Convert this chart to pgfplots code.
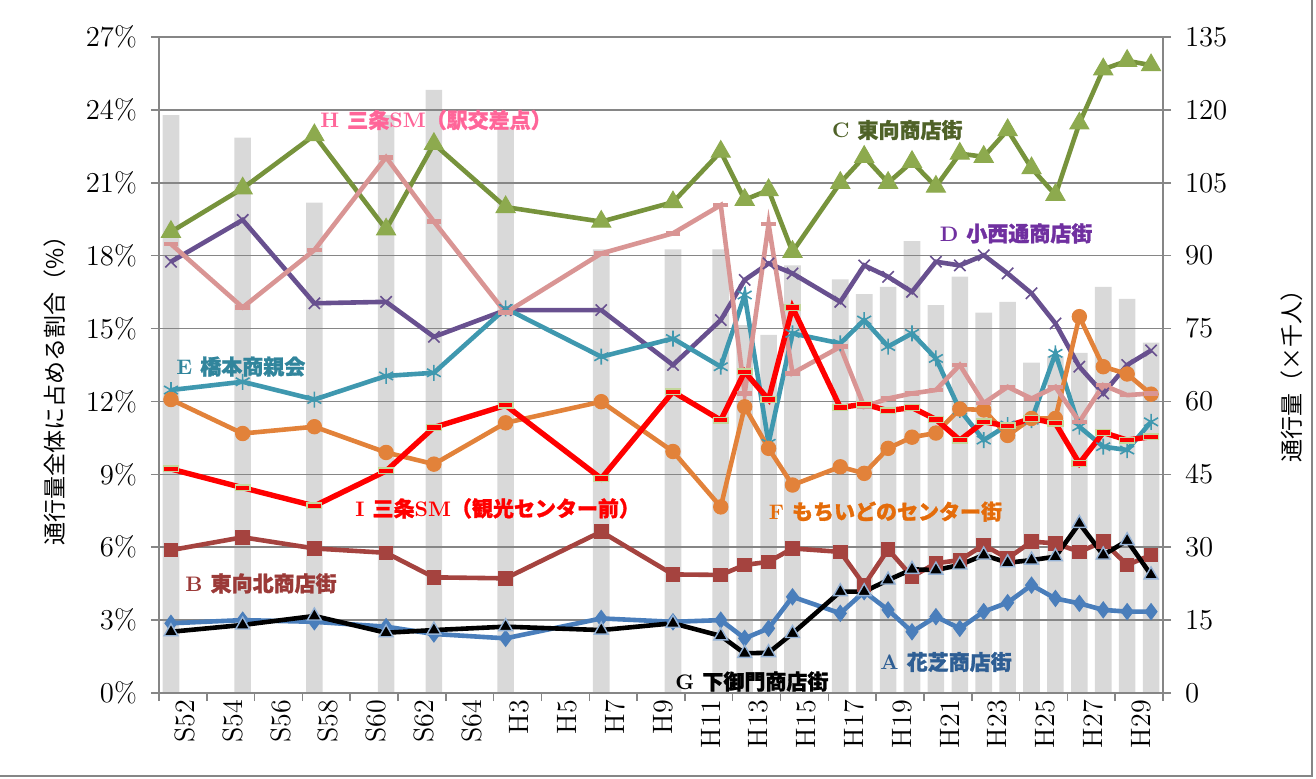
\documentclass[border=0pt]{standalone}
\usepackage{fontspec}
\usepackage{pgfplots}
\usepackage{pgfplotstable}
\pgfplotsset{compat=1.18}
\newfontfamily\cjk{Noto Sans CJK JP}
\newfontfamily\cjkb{Noto Sans CJK JP}[FakeBold=1.3]

\definecolor{barg}{HTML}{D9D9D9}
\definecolor{axgray}{HTML}{868686}
\definecolor{cA}{HTML}{4A7EBB}
\definecolor{cB}{HTML}{A5433F}
\definecolor{cC}{HTML}{77933C}
\definecolor{cCm}{HTML}{8DAA4E}
\definecolor{cD}{HTML}{68508F}
\definecolor{cE}{HTML}{3F98AF}
\definecolor{cF}{HTML}{E2823A}
\definecolor{cGm}{HTML}{95B3D7}
\definecolor{cH}{HTML}{D99594}
\definecolor{cIm}{HTML}{C3D69B}
\definecolor{lA}{HTML}{2E5E94}
\definecolor{lB}{HTML}{9B3A38}
\definecolor{lC}{HTML}{4F6228}
\definecolor{lD}{HTML}{7030A0}
\definecolor{lE}{HTML}{31859C}
\definecolor{lF}{HTML}{E46C0A}
\definecolor{lH}{HTML}{FF6699}

\pgfdeclareplotmark{dashbox}{%
  \pgfpathrectangle{\pgfqpoint{-3.7pt}{-1.4pt}}{\pgfqpoint{7.4pt}{2.8pt}}%
  \pgfusepathqfillstroke}

% x = category index (S52 = 0 ... H30 = 41), bar = traffic (x1000), A..I = share (%)
\pgfplotstableread{
x   bar    A     B     C      D      E      F      G     H      I
0   118.9  2.87  5.88  18.98  17.75  12.47  12.08  2.52  18.48  9.22
3   114.3  3.00  6.41  20.77  19.47  12.81  10.68  2.80  15.87  8.45
6   100.9  2.93  5.95  22.96  16.04  12.08  10.96  3.17  18.23  7.70
9   118.9  2.73  5.77  19.08  16.10  13.05  9.90   2.48  22.05  9.14
11  124.1  2.43  4.76  22.60  14.66  13.18  9.42   2.59  19.40  10.93
14  116.5  2.25  4.72  20.00  15.76  15.83  11.12  2.73  15.65  11.84
18  91.3   3.07  6.64  19.40  15.76  13.84  11.99  2.59  18.09  8.83
21  91.3   2.93  4.88  20.20  13.50  14.59  9.94   2.87  18.92  12.40
23  91.3   3.00  4.86  22.28  15.35  13.43  7.66   2.35  20.08  11.23
24  75.7   2.25  5.27  20.30  17.00  16.38  11.78  1.63  12.33  13.22
25  73.7   2.66  5.40  20.70  17.68  10.28  10.07  1.66  19.30  12.08
26  88.0   3.96  5.95  18.16  17.27  14.80  8.56   2.45  13.16  15.87
28  85.1   3.28  5.81  21.00  16.10  14.39  9.31   4.17  14.25  11.75
29  82.1   4.17  4.44  22.07  17.60  15.35  9.04   4.17  11.78  11.89
30  83.6   3.42  5.91  21.00  17.13  14.26  10.07  4.65  12.12  11.62
31  93.0   2.52  4.79  21.86  16.51  14.80  10.53  5.09  12.33  11.75
32  79.8   3.14  5.34  20.84  17.75  13.77  10.70  5.06  12.47  11.26
33  85.7   2.66  5.47  22.20  17.60  11.65  11.69  5.27  13.50  10.41
34  78.3   3.35  6.09  22.07  18.02  10.41  11.65  5.68  11.93  11.16
35  80.5   3.72  5.54  23.17  17.27  11.03  10.60  5.36  12.60  10.99
36  68.0   4.44  6.23  21.60  16.45  11.23  11.30  5.47  12.12  11.30
37  69.3   3.89  6.16  20.50  15.21  13.98  11.30  5.61  12.60  11.10
38  70.0   3.69  5.81  23.44  13.43  10.96  15.49  6.98  11.16  9.45
39  83.6   3.42  6.23  25.67  12.33  10.14  13.43  5.68  12.67  10.72
40  81.1   3.35  5.27  26.02  13.50  10.00  13.13  6.27  12.26  10.41
41  72.1   3.35  5.68  25.84  14.10  11.16  12.30  4.86  12.33  10.55
}\data

\begin{document}
\begin{tikzpicture}
\useasboundingbox (-79.5pt,-42.5pt) rectangle (578.5pt,346.5pt);
\draw[axgray, line width=0.6pt] (576.5pt,346.5pt) -- (576.5pt,-41.5pt) -- (-79.5pt,-41.5pt);

% bars on the right axis
\begin{axis}[
  width=502pt, height=328pt, scale only axis,
  xmin=-0.5, xmax=41.5, ymin=0, ymax=135,
  axis x line=none, axis y line*=right,
  axis line style={draw=axgray, line width=0.75pt},
  ytick={0,15,...,135},
  tick style={draw=axgray, line width=0.75pt},
  tick align=outside, major tick length=4pt,
  yticklabel style={font=\fontsize{14}{15}\selectfont, xshift=3.5pt},
  ybar, bar width=8.3pt,
]
\addplot[fill=barg, draw=none] table[x=x, y=bar] {\data};
\end{axis}

% shares on the left axis
\begin{axis}[
  width=502pt, height=328pt, scale only axis,
  xmin=-0.5, xmax=41.5, ymin=0, ymax=27,
  axis x line*=bottom, axis y line*=left,
  axis line style={draw=axgray, line width=0.75pt},
  ytick={0,3,...,27},
  yticklabel={\pgfmathprintnumber{\tick}\%},
  yticklabel style={font=\fontsize{14}{15}\selectfont, xshift=-3.5pt},
  ymajorgrids, grid style={draw=axgray, line width=0.75pt},
  tick style={draw=axgray, line width=0.75pt},
  tick align=outside, major tick length=4pt,
  xtick={-0.5,1.5,...,41.5}, xticklabels={},
  extra x ticks={0,2,...,40},
  extra x tick labels={S52,S54,S56,S58,S60,S62,S64,H3,H5,H7,H9,H11,H13,H15,H17,H19,H21,H23,H25,H27,H29},
  extra x tick style={major tick length=0pt,
    xticklabel style={rotate=90, anchor=east, font=\fontsize{14}{15}\selectfont, yshift=-7pt}},
  clip=false,
]
\addplot[cA, line width=2.3pt, mark=diamond*, mark size=4pt, mark options={solid, line width=0.5pt, fill=cA}] table[x=x, y=A] {\data};
\addplot[cB, line width=2.3pt, mark=square*, mark size=3.4pt, mark options={solid, line width=0.5pt, fill=cB}] table[x=x, y=B] {\data};
\addplot[cC, line width=2.3pt, mark=triangle*, mark size=5.5pt, mark options={solid, line width=0.5pt, draw=cCm, fill=cCm}] table[x=x, y=C] {\data};
\addplot[cD, line width=2.3pt, mark=x, mark size=4pt, mark options={solid, line width=0.8pt}] table[x=x, y=D] {\data};
\addplot[cE, line width=2.3pt, mark=asterisk, mark size=4pt, mark options={solid, line width=0.8pt}] table[x=x, y=E] {\data};
\addplot[cF, line width=2.3pt, mark=*, mark size=3.6pt, mark options={solid, line width=0.5pt, fill=cF}] table[x=x, y=F] {\data};
\addplot[black, line width=2.3pt, mark=triangle*, mark size=4pt, mark options={solid, line width=0.7pt, draw=cGm, fill=black}] table[x=x, y=G] {\data};
\addplot[cH, line width=2.3pt, mark=-, mark size=3.7pt, mark options={solid, line width=2.3pt}] table[x=x, y=H] {\data};
\addplot[red, line width=2.7pt, mark=dashbox, mark options={solid, line width=0.7pt, draw=cIm, fill=red}] table[x=x, y=I] {\data};
\end{axis}

% series labels
\begin{scope}[every node/.style={anchor=west, inner sep=0pt, font=\fontsize{10.5}{12}\selectfont\bfseries}]
\node[text=lH] at (80.5pt,286.5pt) {H {\cjkb 三条}SM{\cjkb （駅交差点）}};
\node[text=lC] at (336.3pt,281.5pt) {C {\cjkb 東向商店街}};
\node[text=lD] at (390.2pt,229.8pt) {D {\cjkb 小西通商店街}};
\node[text=lE] at (8.5pt,163.2pt) {E {\cjkb 橋本商親会}};
\node[text=red] at (98pt,92.3pt) {I {\cjkb 三条}SM{\cjkb （観光センター前）}};
\node[text=lF] at (304.7pt,90.7pt) {F {\cjkb もちいどのセンター街}};
\node[text=lB] at (13pt,54.8pt) {B {\cjkb 東向北商店街}};
\node[text=black] at (258pt,5.7pt) {G {\cjkb 下御門商店街}};
\node[text=lA] at (360.5pt,15.5pt) {A {\cjkb 花芝商店街}};
\end{scope}

% axis titles
\node[rotate=90, font=\cjk\fontsize{11.5}{12}\selectfont] at (-52pt,154pt) {通行量全体に占める割合（\%）};
\node[rotate=90, font=\cjk\fontsize{11.5}{12}\selectfont] at (566.5pt,161.5pt) {通行量（×千人）};
\end{tikzpicture}
\end{document}
